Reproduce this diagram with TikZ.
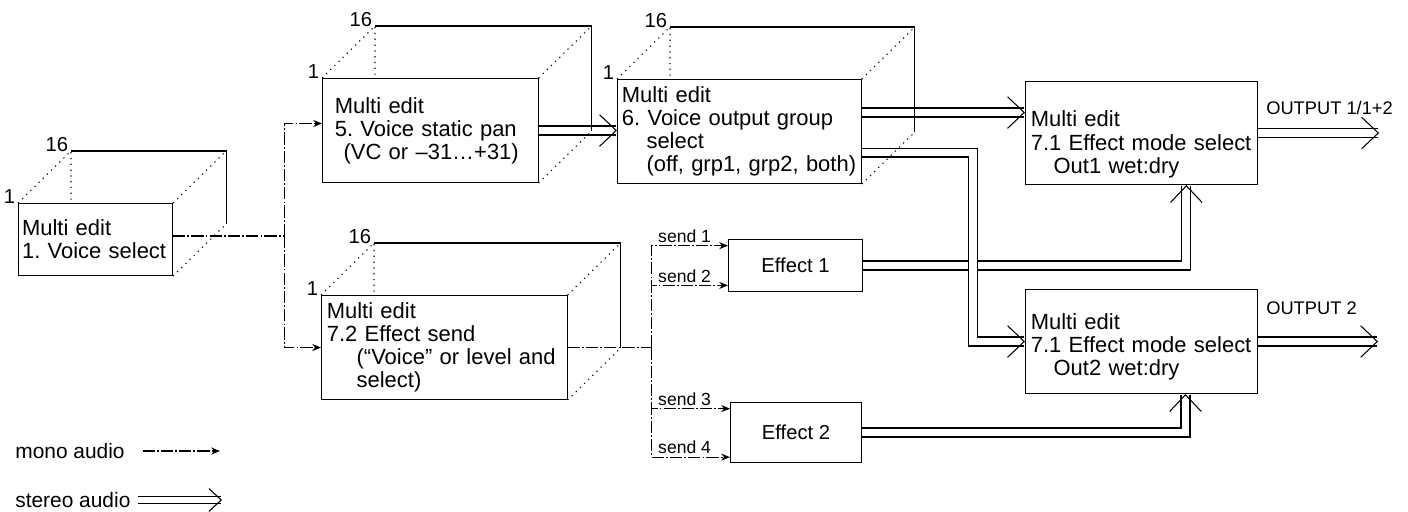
\documentclass[tikz,border=0pt]{standalone}
\usepackage{fontspec}
\setmainfont{Liberation Sans}
\usetikzlibrary{arrows.meta}

\tikzset{
  box/.style={draw, line width=0.6pt, align=left, inner xsep=4pt, inner ysep=2pt, anchor=north west},
  fxbox/.style={draw, line width=0.6pt, anchor=north west, font=\fontsize{11.5}{13}\selectfont},
  hidden/.style={line width=0.6pt, dash pattern=on 0.7pt off 2.6pt},
  backedge/.style={line width=0.6pt},
  monoline/.style={line width=0.6pt, dash pattern=on 7pt off 1.2pt on 1pt off 1.2pt},
  mono/.style={monoline, -{Stealth[length=5pt,width=4pt]}},
  stereo/.style={line width=0.7pt, double, double distance=4.4pt,
    -{Straight Barb[length=9.5pt,width=18pt,line width'=0.6pt]}},
  sendlbl/.style={anchor=south west, inner sep=1.5pt, xshift=2pt, font=\fontsize{10}{12}\selectfont},
  outlbl/.style={anchor=west, inner sep=0pt, font=\fontsize{10.4}{12}\selectfont},
  stacklbl/.style={anchor=base east, inner sep=1.5pt, font=\fontsize{11.5}{13}\selectfont},
  legend/.style={anchor=west, inner sep=0pt, font=\fontsize{11.9}{13}\selectfont}
}

% copies 1...16 stacked behind a box
\newcommand{\multistack}[1]{%
  \coordinate (#1-bnw) at ([shift={(53,-52)}]#1.north west);
  \coordinate (#1-bne) at ([shift={(53,-52)}]#1.north east);
  \coordinate (#1-bse) at ([shift={(53,-52)}]#1.south east);
  \draw[hidden] (#1.north west) -- (#1-bnw) -- (#1-bnw |- #1.north);
  \draw[hidden] (#1.north east) -- (#1-bne);
  \draw[hidden] (#1.south east) -- (#1-bse);
  \draw[backedge] (#1-bnw) -- (#1-bne) -- (#1-bse);
  \node[stacklbl] (#1-one) at (#1.north west) {1};
  \node[stacklbl] (#1-sixteen) at (#1-bnw) {16};
}

\begin{document}
\begin{tikzpicture}[x=0.02cm, y=-0.02cm, font=\fontsize{12.5}{13.2}\selectfont\frenchspacing]
        \useasboundingbox (0,0) rectangle (1408,511);

        % Bloques
        \node[box, inner xsep=2pt, text width=2.94cm, minimum height=1.44cm] (vs) at (18,203)
            {Multi edit\\1. Voice select};
        \node[box, inner xsep=7pt, text width=3.82cm, minimum height=2.08cm] (pan) at (322,78)
            {Multi edit\\5. Voice static pan\\\hspace*{5pt}(VC or –31…+31)};
        \node[box, inner xsep=2.5pt, text width=4.70cm, minimum height=2.08cm] (grp) at (617,79)
            {Multi edit\\6. Voice output group\\\hspace*{14pt}select\\\hspace*{14pt}(off, grp1, grp2, both)};
        \node[box, inner xsep=3pt, text width=4.70cm, minimum height=2.08cm] (fxs) at (321,295)
            {Multi edit\\7.2 Effect send\\\hspace*{17pt}(“Voice” or level and\\\hspace*{17pt}select)};
        \node[fxbox, minimum width=2.68cm, minimum height=1.04cm] (fxa) at (728,239) {Effect 1};
        \node[fxbox, minimum width=2.62cm, minimum height=1.20cm] (fxb) at (730,402) {Effect 2};
        \node[box, inner xsep=3pt, text width=4.43cm, minimum height=2.06cm] (outa) at (1025,81)
            {\rule{0pt}{22pt}Multi edit\\7.1 Effect mode select\\\hspace*{13pt}Out1 wet:dry};
        \node[box, inner xsep=3pt, text width=4.43cm, minimum height=2.08cm] (outb) at (1025,289)
            {\rule{0pt}{15pt}Multi edit\\7.1 Effect mode select\\\hspace*{13pt}Out2 wet:dry};

        % Audio mono
        \draw[monoline] ([yshift=2pt]vs.east) -- ++(111,0) coordinate (bus);
        \draw[mono] (bus) |- ([yshift=4pt]pan.west);
        \draw[mono] (bus) |- (fxs.west);
        \draw[monoline] (fxs.east) -- ++(84,0) coordinate (sbus);
        \draw[mono] (sbus) |- ([yshift=11.3pt]fxa.west) node[sendlbl, pos=.5] (snda) {send 1};
        \draw[mono] (sbus) |- ([yshift=-11.3pt]fxa.west) node[sendlbl, pos=.5] (sndb) {send 2};
        \draw[mono] (sbus) |- ([yshift=13.6pt]fxb.west) node[sendlbl, pos=.5] (sndc) {send 3};
        \draw[mono] (sbus) |- ([yshift=-14pt]fxb.west) node[sendlbl, pos=.5] (sndd) {send 4};

        % Audio estereo
        \draw[stereo] (pan.east) -- (pan.east -| grp.west);
        \draw[stereo] (fxa.east) -| ([xshift=25.5pt]outa.south);
        \draw[stereo] (fxb.east) -| ([xshift=25pt]outb.south);
        \draw[stereo] ([yshift=10.8pt]grp.east) -- ([yshift=10.8pt]grp.east -| outa.west);
        \draw[stereo] ([yshift=-12pt]grp.east) -- ++(111,0) |- (outb.west);
        \draw[stereo] (outa.east) -- ++(121,0) coordinate (outaend);
        \draw[stereo] (outb.east) -- ++(120,0) coordinate (outbend);
        \node[outlbl] (outalbl) at ([xshift=4.5pt,yshift=14pt]outa.east) {OUTPUT 1/1+2};
        \node[outlbl] (outblbl) at ([xshift=4.5pt,yshift=19pt]outb.east) {OUTPUT 2};

        % Pilas 1...16
        \multistack{vs}
        \multistack{pan}
        \multistack{grp}
        \multistack{fxs}

        % Leyenda
        \node[legend] (lgmono) at (15,451) {mono audio};
        \node[legend] (lgstereo) at (15,500) {stereo audio};
        \coordinate (lgmonoend) at (220,0);
        \coordinate (lgstereoend) at (222,0);
        \draw[mono] ([xshift=10pt]lgmono.east) -- (lgmono.east -| lgmonoend);
        \draw[stereo, double distance=3.4pt, -{Straight Barb[length=7pt,width=13pt,line width'=0.6pt]}]
            ([xshift=4pt]lgstereo.east) -- (lgstereo.east -| lgstereoend);
\end{tikzpicture}
\end{document}
